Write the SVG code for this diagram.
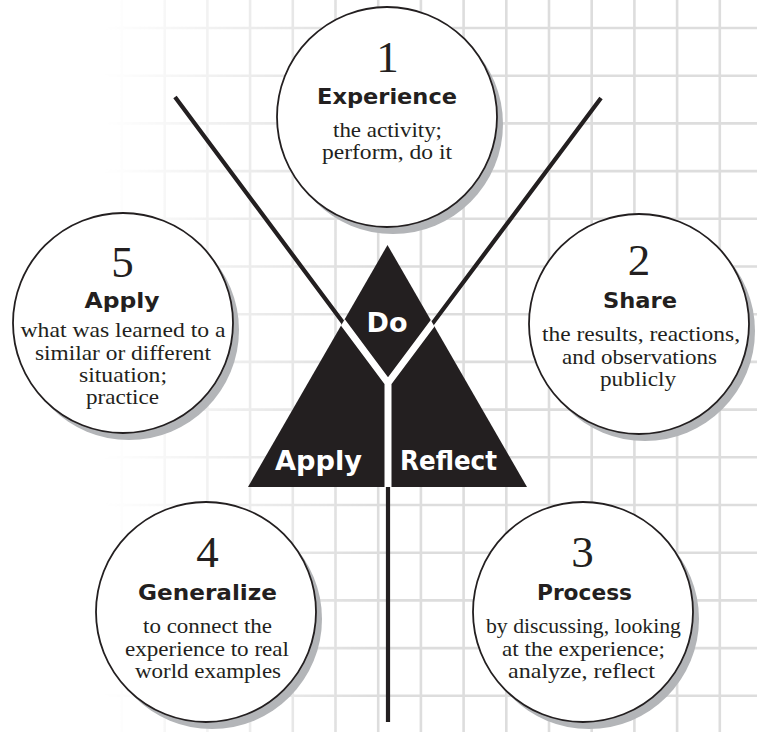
<svg xmlns="http://www.w3.org/2000/svg" width="757" height="732" viewBox="0 0 757 732">
  <defs>
    <style>
      .grid { fill: none; stroke: #dddddd; stroke-width: 2.6; }
      .shadow { fill: #b3b5b8; }
      .disc { fill: #ffffff; stroke: #231f20; stroke-width: 1.8; }
      .num { font-family: "Liberation Serif", serif; font-size: 45px; text-anchor: middle; fill: #231f20; }
      .title { font-family: "DejaVu Sans", sans-serif; font-weight: bold; font-size: 22px; text-anchor: middle; fill: #231f20; }
      .body { font-family: "Liberation Serif", serif; font-size: 21px; text-anchor: middle; fill: #231f20; }
      .tri { font-family: "DejaVu Sans", sans-serif; font-weight: bold; font-size: 27px; text-anchor: middle; fill: #ffffff; }
      .conn { fill: none; stroke: #231f20; stroke-width: 4.2; }
      .knock { fill: none; stroke: #ffffff; stroke-width: 7; }
    </style>
    <linearGradient id="fadeGrad" gradientUnits="userSpaceOnUse" x1="105" y1="0" x2="370" y2="0">
      <stop offset="0" stop-color="#000"/>
      <stop offset="1" stop-color="#fff"/>
    </linearGradient>
    <mask id="fade">
      <rect x="0" y="0" width="757" height="732" fill="url(#fadeGrad)"/>
    </mask>
    <clipPath id="triClip">
      <polygon points="387.5,245 248,487 527,487"/>
    </clipPath>
  </defs>

  <rect x="0" y="0" width="757" height="732" fill="#ffffff"/>

  <path class="grid" mask="url(#fade)" d="M122 0V732M164.7 0V732M207.4 0V732M250.1 0V732M292.8 0V732M335.5 0V732M378.2 0V732M420.9 0V732M463.6 0V732M506.3 0V732M549 0V732M591.7 0V732M634.4 0V732M677.1 0V732M719.8 0V732M0 28H757M0 75.7H757M0 123.4H757M0 171.1H757M0 218.8H757M0 266.5H757M0 314.2H757M0 361.9H757M0 409.6H757M0 457.3H757M0 505H757M0 552.7H757M0 600.4H757M0 648.1H757M0 695.8H757"/>

  <g id="connectors">
    <path class="conn" d="M175 97L388 383L601 98"/>
    <path class="conn" d="M388 383V722"/>
  </g>

  <g id="triangle">
    <polygon points="387.5,245 248,487 527,487" fill="#231f20"/>
    <g clip-path="url(#triClip)">
      <path class="knock" d="M175 97L388 383L601 98M388 383V492"/>
    </g>
    <text class="tri" x="387" y="332">Do</text>
    <text class="tri" x="318.5" y="470" textLength="87" lengthAdjust="spacingAndGlyphs">Apply</text>
    <text class="tri" x="448.5" y="470" textLength="97" lengthAdjust="spacingAndGlyphs">Reflect</text>
  </g>

  <g id="node-1-experience">
    <circle class="shadow" cx="393" cy="124" r="110"/>
    <circle class="disc" cx="387" cy="117" r="110"/>
    <text class="num" x="387.5" y="72">1</text>
    <text class="title" x="387" y="104" textLength="140" lengthAdjust="spacingAndGlyphs">Experience</text>
    <text class="body" x="387.5" y="137" textLength="109" lengthAdjust="spacingAndGlyphs">the activity;</text>
    <text class="body" x="387" y="159" textLength="130" lengthAdjust="spacingAndGlyphs">perform, do it</text>
  </g>

  <g id="node-2-share">
    <circle class="shadow" cx="645" cy="331" r="110"/>
    <circle class="disc" cx="639" cy="324" r="110"/>
    <text class="num" x="639" y="275">2</text>
    <text class="title" x="640" y="308" textLength="74" lengthAdjust="spacingAndGlyphs">Share</text>
    <text class="body" x="641" y="341" textLength="198" lengthAdjust="spacingAndGlyphs">the results, reactions,</text>
    <text class="body" x="639.5" y="364" textLength="155" lengthAdjust="spacingAndGlyphs">and observations</text>
    <text class="body" x="638" y="386" textLength="76" lengthAdjust="spacingAndGlyphs">publicly</text>
  </g>

  <g id="node-3-process">
    <circle class="shadow" cx="589" cy="619" r="110"/>
    <circle class="disc" cx="583" cy="612" r="110"/>
    <text class="num" x="582.5" y="567">3</text>
    <text class="title" x="584.5" y="600" textLength="95" lengthAdjust="spacingAndGlyphs">Process</text>
    <text class="body" x="583.5" y="633" textLength="195" lengthAdjust="spacingAndGlyphs">by discussing, looking</text>
    <text class="body" x="583.5" y="656" textLength="163" lengthAdjust="spacingAndGlyphs">at the experience;</text>
    <text class="body" x="581.5" y="678" textLength="147" lengthAdjust="spacingAndGlyphs">analyze, reflect</text>
  </g>

  <g id="node-4-generalize">
    <circle class="shadow" cx="212" cy="619" r="110"/>
    <circle class="disc" cx="206" cy="612" r="110"/>
    <text class="num" x="207.5" y="567">4</text>
    <text class="title" x="207.5" y="600" textLength="139" lengthAdjust="spacingAndGlyphs">Generalize</text>
    <text class="body" x="207.5" y="633" textLength="129" lengthAdjust="spacingAndGlyphs">to connect the</text>
    <text class="body" x="207" y="656" textLength="164" lengthAdjust="spacingAndGlyphs">experience to real</text>
    <text class="body" x="208" y="678" textLength="146" lengthAdjust="spacingAndGlyphs">world examples</text>
  </g>

  <g id="node-5-apply">
    <circle class="shadow" cx="129" cy="330" r="110"/>
    <circle class="disc" cx="123" cy="323" r="110"/>
    <text class="num" x="122.5" y="277">5</text>
    <text class="title" x="122" y="308" textLength="75" lengthAdjust="spacingAndGlyphs">Apply</text>
    <text class="body" x="123" y="337" textLength="205" lengthAdjust="spacingAndGlyphs">what was learned to a</text>
    <text class="body" x="123" y="360" textLength="176" lengthAdjust="spacingAndGlyphs">similar or different</text>
    <text class="body" x="123" y="382" textLength="88" lengthAdjust="spacingAndGlyphs">situation;</text>
    <text class="body" x="122.5" y="404" textLength="73" lengthAdjust="spacingAndGlyphs">practice</text>
  </g>
</svg>
